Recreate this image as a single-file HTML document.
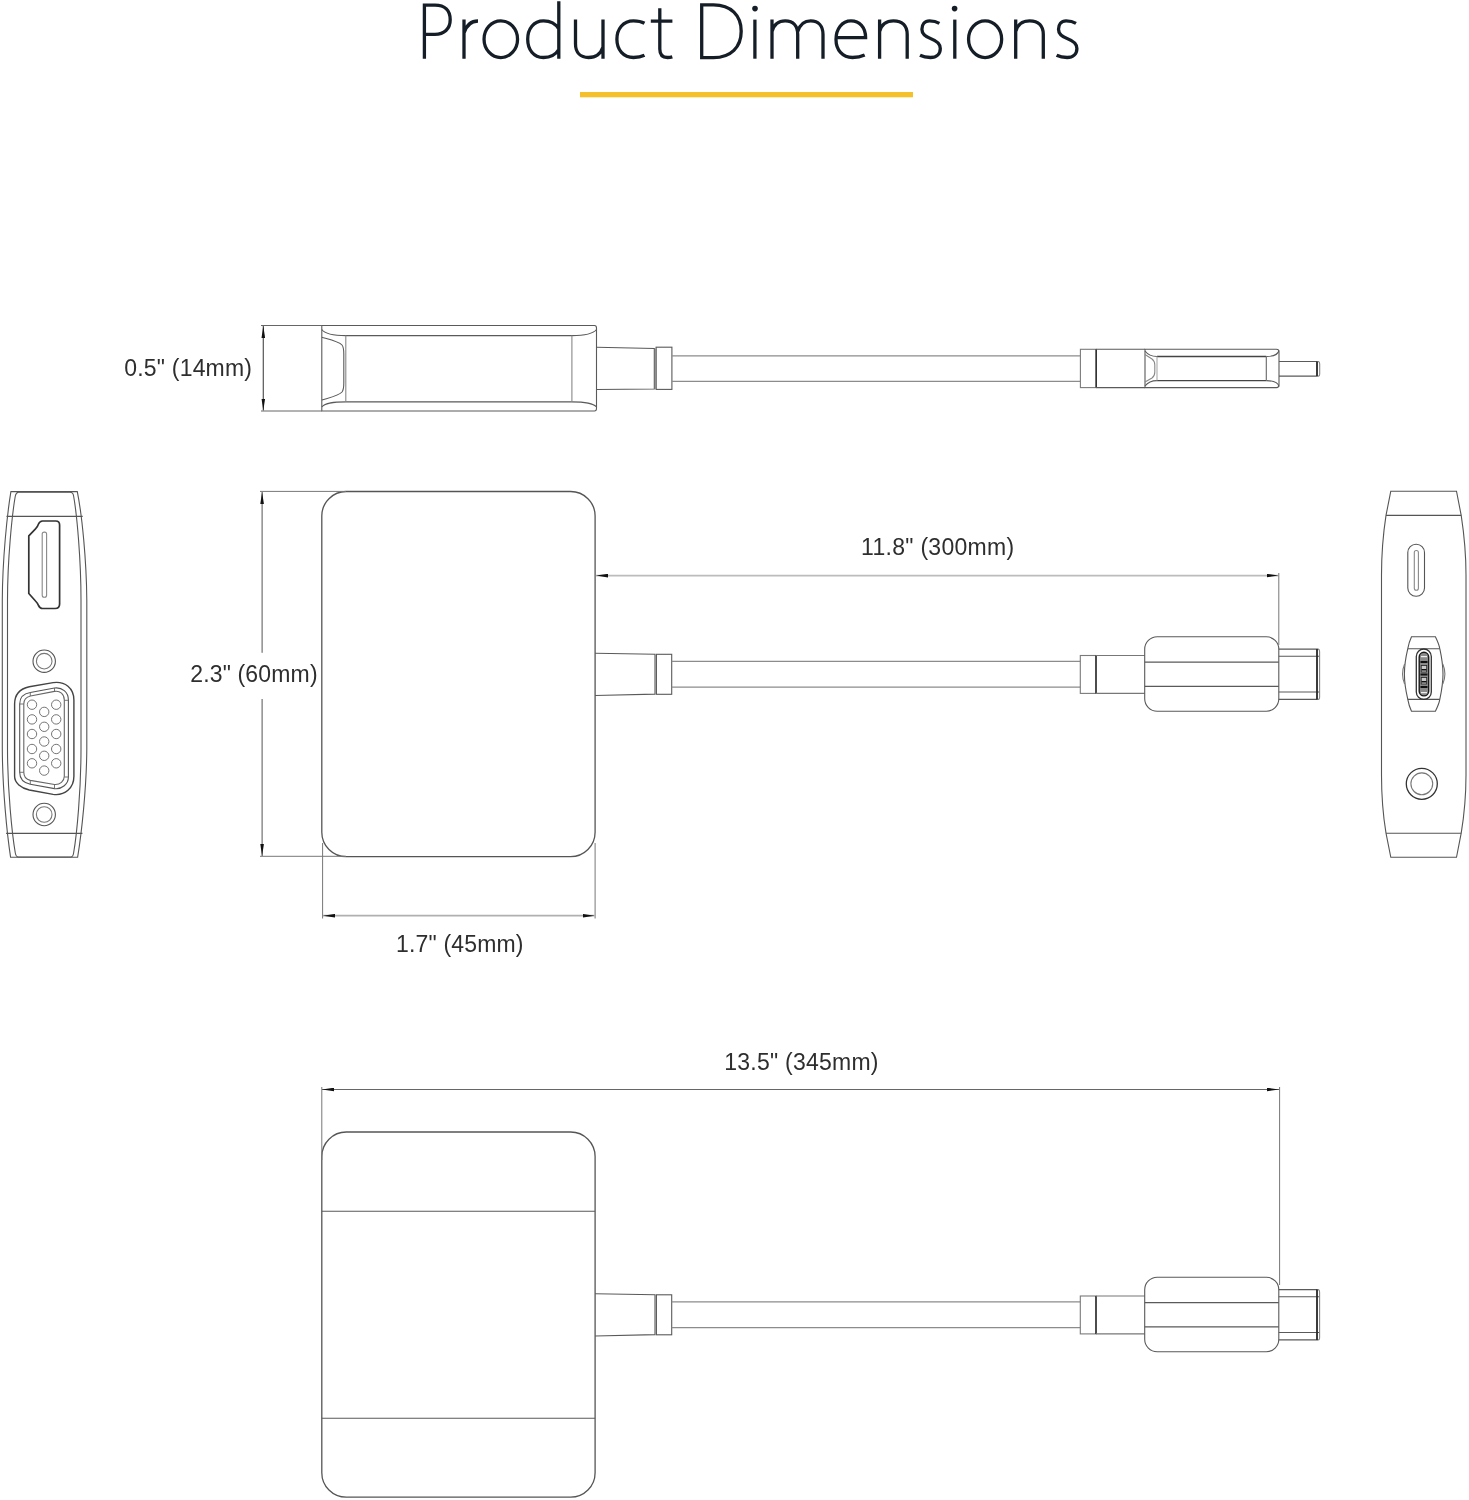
<!DOCTYPE html>
<html><head><meta charset="utf-8">
<style>
html,body{margin:0;padding:0;background:#fff;width:1469px;height:1500px;overflow:hidden}
svg{display:block;position:absolute;left:0;top:0}
text{font-family:"Liberation Sans",sans-serif}
</style></head>
<body>
<svg width="1469" height="1500" viewBox="0 0 1469 1500">
<defs>
  <filter id="gs" x="-5%" y="-20%" width="110%" height="140%"><feColorMatrix type="matrix" values="1 0 0 0 0  0 1 0 0 0  0 0 1 0 0  0 0 0 1 0"/></filter>
  <marker id="ar" viewBox="0 0 12 4" refX="12" refY="2" markerWidth="12" markerHeight="4" markerUnits="userSpaceOnUse" orient="auto-start-reverse">
    <path d="M0 0.2 L12 2 L0 3.8 Z" fill="#111"/>
  </marker>
</defs>

<!-- Title -->
<g id="title" fill="none" stroke="#151e27" stroke-width="3.3" stroke-linecap="butt" stroke-linejoin="miter">
  <path d="M424.4 58.7 V5.1 H435 C445 5.1 450.2 10.5 450.2 19.7 C450.2 29 444 34.3 435 34.3 H424.4"/>
  <path d="M464 19.6 V58.7 M464 33 C466.5 25 471 21 478 21"/>
  <ellipse cx="500.8" cy="39.2" rx="16.75" ry="18.35"/>
  <path d="M558.8 1.2 V58.7 M558.8 29 C555.5 23.5 550 20.9 543.5 20.9 C533.5 20.9 527.7 29 527.7 39.2 C527.7 49.5 533.5 57.5 543.5 57.5 C550 57.5 555.5 55 558.8 49.5"/>
  <path d="M575.5 19.6 V44 C575.5 52.5 580.5 57.5 588.5 57.5 C596 57.5 601 53 603 47 M603 19.6 V58.7"/>
  <path d="M644.5 23.3 C641.5 21.6 637.5 20.9 633.5 20.9 C623 20.9 616.9 29 616.9 39.2 C616.9 49.8 623.5 57.5 633.5 57.5 C637.5 57.5 641.5 56.7 644.5 55.2"/>
  <path d="M659.8 8.2 V49 C659.8 54.8 662.5 57.5 667.5 57.5 C669.3 57.5 671 57.2 672.3 56.8 M650.8 21.1 H672.4"/>
  <path d="M701.7 4.9 H713.5 C731 4.9 741.2 15.5 741.2 31.2 C741.2 47 731 57.6 713.5 57.6 H701.7 Z"/>
  <path d="M754.9 19.6 V58.7"/>
  <path d="M772 19.6 V58.7 M772 31.5 C774 24.5 779 20.9 785.2 20.9 C793.5 20.9 797.7 26 797.7 34.5 V58.7 M797.7 31.5 C800 24.5 804.5 20.9 810.7 20.9 C818.5 20.9 823 26 823 34.5 V58.7"/>
  <path d="M836.2 37.6 H865.6 C865.6 27 859.5 20.9 851 20.9 C842 20.9 836 29 836 39.5 C836 50 842.5 57.5 852.5 57.5 C857.5 57.5 861.5 56.5 864.7 55"/>
  <path id="tn" d="M879.6 19.6 V58.7 M879.6 31.5 C881.5 24.5 886.5 20.9 893.5 20.9 C902.5 20.9 907.2 26 907.2 34.5 V58.7"/>
  <path id="ts" d="M939.4 23.3 C936.5 21.6 933 20.9 929.5 20.9 C924.5 20.9 921.9 24.5 921.9 29.3 C921.9 34.5 925.5 36.8 931 38.8 C937 41 940.3 43.8 940.3 48.5 C940.3 54 936.5 57.5 930.5 57.5 C926 57.5 922.5 56.5 920 55.2"/>
  <path d="M954.8 19.6 V58.7"/>
  <ellipse cx="985.1" cy="39.2" rx="16.55" ry="18.35"/>
  <use href="#tn" transform="translate(136.1 0)"/>
  <use href="#ts" transform="translate(136.6 0)"/>
  <circle cx="755" cy="8.6" r="2.8" fill="#151e27" stroke="none"/>
  <circle cx="954.6" cy="8.6" r="2.8" fill="#151e27" stroke="none"/>
</g>
<rect x="580" y="92" width="333" height="5.3" fill="#f4c02c"/>

<!-- ============ TOP VIEW ============ -->
<g fill="none" stroke="#5a5a5a" stroke-width="1.1">
  <!-- ext lines -->
  <path d="M261 325.5 H321.8 M261 411 H321.8" stroke="#666" stroke-width="1"/>
  <path d="M263.3 326 V410.5" stroke="#555" stroke-width="1.2" marker-start="url(#ar)" marker-end="url(#ar)"/>
  <!-- body -->
  <path d="M321.8 325.5 H594.5 Q596.5 325.5 596.5 328 V408.5 Q596.5 411 594.5 411 H321.8 Z"/>
  <path d="M321.8 329.5 C325 334 334 335.6 346 335.6 H571.8 C583 335.6 593 334 596.5 329.5"/>
  <path d="M321.8 407 C325 402.5 334 401.9 346 401.9 H571.8 C583 401.9 593 403 596.5 407"/>
  <path d="M345.8 335.6 V401.9 M571.9 335.6 V401.9" stroke="#888"/>
  <path d="M321.8 337.2 C332 340 339 341.5 342 345 C343.6 347 343.8 350 343.8 354 V383 C343.8 387 343.6 390 342 392 C339 395.5 332 397 321.8 400"/>
  <!-- strain relief -->
  <path d="M596.5 347.3 L654.3 348.5 V389 L596.5 389.5"/>
  <path d="M655.9 348.5 V389" stroke="#999"/>
  <rect x="656.1" y="347.2" width="15.8" height="42.2"/>
  <!-- cable -->
  <path d="M671.9 355.9 H1080.4 M671.9 381.4 H1080.4" stroke="#8c8c8c" stroke-width="1.25"/>
  <!-- collar -->
  <rect x="1080.4" y="349.3" width="15.8" height="38.3" stroke="#7a7a7a"/>
  <path d="M1096.2 349.3 V387.6" stroke="#333" stroke-width="1.6"/>
  <path d="M1096.2 349.3 H1145 M1096.2 387.6 H1145"/>
  <!-- housing -->
  <path d="M1145 349.3 H1276.5 Q1279 349.3 1279 352 V385 Q1279 387.6 1276.5 387.6 H1145 Z"/>
  <path d="M1157 356.5 H1266.3 M1157 380.6 H1266.3" stroke="#444" stroke-width="1.4"/>
  <path d="M1145 351 C1148 355 1152 356.5 1157 356.5 M1266.3 356.5 C1273 356.5 1278 354.5 1279 350.5 M1145 386 C1148 382 1152 380.6 1157 380.6 M1266.3 380.6 C1273 380.6 1278 382.5 1279 386.5"/>
  <path d="M1157 356.5 V380.6" stroke="#aaa"/>
  <path d="M1266.3 356.5 V380.6" stroke="#666"/>
  <path d="M1145 354.5 L1152 359 Q1154.8 361 1154.8 365 V372 Q1154.8 376 1152 378 L1145 382" stroke="#888"/>
  <!-- plug -->
  <path d="M1279 361.5 H1317 V376.1 H1279"/>
  <path d="M1317 361.5 H1318.5 Q1319.7 362 1319.7 364 V374 Q1319.7 376.1 1318.5 376.1 H1317" stroke="#888"/>
  <path d="M1317 361.5 V376.1" stroke="#222" stroke-width="1.6"/>
</g>
<text x="124.3" y="376.0" font-size="23" textLength="127.7" lengthAdjust="spacing" fill="#2e2e2e" filter="url(#gs)">0.5" (14mm)</text>

<!-- ============ MIDDLE / BOTTOM VIEWS (shared) ============ -->
<g id="mainview" fill="none" stroke="#5a5a5a" stroke-width="1.1">
  <rect x="321.8" y="491.5" width="273.3" height="365.2" rx="24.5" ry="24.5" stroke="#555" stroke-width="1.3"/>
  <path d="M595.1 653.3 L655 654.2 V694.1 L595.1 695.5"/>
  <path d="M656.4 654.2 V694.1" stroke="#999"/>
  <rect x="656.4" y="654.3" width="15.3" height="40"/>
  <path d="M671.7 661.4 H1080.3 M671.7 687 H1080.3" stroke="#8c8c8c" stroke-width="1.25"/>
  <rect x="1080.3" y="655.5" width="15.7" height="37.9" stroke="#7a7a7a"/>
  <path d="M1096 655.5 V693.4" stroke="#333" stroke-width="1.6"/>
  <path d="M1096 655.5 H1144.7 M1096 693.4 H1144.7" stroke="#777"/>
  <rect x="1144.7" y="636.8" width="134.1" height="74.5" rx="12.5" ry="12.5"/>
  <path d="M1144.7 662.1 H1278.8 M1144.7 686.4 H1278.8"/>
  <path d="M1278.8 649.1 H1317 V699.4 H1278.8 M1278.8 656.2 H1319.6 M1278.8 692 H1319.6"/>
  <path d="M1317 649.1 H1318.3 Q1319.6 649.5 1319.6 651.5 V697 Q1319.6 699.4 1318.3 699.4 H1317" stroke="#888"/>
  <path d="M1317 649.1 V699.4" stroke="#222" stroke-width="1.6"/>
</g>
<use href="#mainview" transform="translate(0 640.5)"/>
<path d="M321.8 1211.2 H595.1 M321.8 1418.2 H595.1" fill="none" stroke="#5a5a5a" stroke-width="1.1"/>

<!-- dimensions middle -->
<g fill="none" stroke="#777" stroke-width="1">
  <path d="M260 491.4 H346 M260 856.3 H346"/>
  <path d="M262.1 492 V652.8" marker-start="url(#ar)" stroke="#555"/>
  <path d="M262.1 699 V856" marker-end="url(#ar)" stroke="#555"/>
  <path d="M322.6 843 V918.5 M595.1 843 V918.5"/>
  <path d="M323 915.7 H594.6" marker-start="url(#ar)" marker-end="url(#ar)" stroke="#b0b0b0" stroke-width="1.7"/>
  <path d="M596 575.6 H1278.5" marker-start="url(#ar)" marker-end="url(#ar)" stroke="#bcbcbc" stroke-width="1.7"/>
  <path d="M1278.8 573 V645"/>
  <!-- bottom -->
  <path d="M321.8 1087 V1160 M1279.6 1087 V1285"/>
  <path d="M322 1089.5 H1279" marker-start="url(#ar)" marker-end="url(#ar)" stroke="#666"/>
</g>
<text x="190.2" y="681.8" font-size="23" textLength="127.4" lengthAdjust="spacing" fill="#2e2e2e" filter="url(#gs)">2.3" (60mm)</text>
<text x="396" y="952.4" font-size="23" textLength="127.5" lengthAdjust="spacing" fill="#2e2e2e" filter="url(#gs)">1.7" (45mm)</text>
<text x="861" y="555.0" font-size="23" textLength="153.2" lengthAdjust="spacing" fill="#2e2e2e" filter="url(#gs)">11.8" (300mm)</text>
<text x="724.3" y="1069.6" font-size="23" textLength="154.2" lengthAdjust="spacing" fill="#2e2e2e" filter="url(#gs)">13.5" (345mm)</text>

<!-- ============ LEFT SIDE VIEW ============ -->
<g fill="none" stroke="#555" stroke-width="1.1">
  <path d="M10.9 491.6 C7 515 2.5 560 2.3 600 V749 C2.5 789 7 834 10.6 857.3 H77.6 C81.5 834 86.5 789 86.8 749 V600 C86.5 560 82 515 77.3 491.6 Z"/>
  <path d="M18.4 492.3 Q16 492.5 15.3 496 C12 515 7.5 560 7.5 600 V749 C7.5 789 12 834 15.3 853 Q16 857 18.4 857 H70.8 Q73 857 73.6 853 C77 834 81 789 81 749 V600 C81 560 77 515 73.6 496 Q73 492.3 70.1 492.3 Z"/>
  <path d="M6.5 516.4 H82.7 M6.1 833.4 H82.4"/>
  <!-- HDMI -->
  <path d="M28.8 535.8 L35.5 528.8 Q37.5 527 38.5 524 Q39.8 521.2 42.5 521 H55.8 Q59.6 521 59.6 525 V604 Q59.6 608.5 55.1 608.5 H42.5 Q40 608.5 38.5 605.5 Q37.5 603 35.5 601 L28.8 593.5 Z" stroke="#333" stroke-width="1.7"/>
  <rect x="42.2" y="532.1" width="4.4" height="65.1" rx="2" stroke="#888"/>
  <!-- circles -->
  <circle cx="44.2" cy="661.2" r="11.2"/>
  <circle cx="44.2" cy="661.2" r="7.8" stroke="#777"/>
  <circle cx="44.2" cy="814.5" r="11.2"/>
  <circle cx="44.2" cy="814.5" r="7.8" stroke="#777"/>
  <!-- VGA -->
  <path d="M14.6 704 C14.6 694 21 688.5 29.3 686.7 L53.1 682.6 C65 681 73.9 688 73.9 700 V776.3 C73.9 788 65 796 53.1 794.4 L29.3 790 C21 788 14.6 783 14.6 776.3 Z" stroke="#444" stroke-width="1.4"/>
  <path d="M19.7 704 C19.7 697 24 693.5 30.3 692.5 L54.5 688 C62 687 68.4 692 68.4 700 V777 C68.4 784 62 789.5 54.5 788.6 L30.3 784.2 C24 783 19.7 779 19.7 772.3 Z"/>
  <path d="M23.8 704 C23.8 700 26 697 30.5 696 L54.5 691.4 C60 690.5 64.3 694 64.3 700 V776.3 C64.3 781 60 785 54.5 784.5 L30.3 780.4 C26 779.5 23.8 777 23.8 772.3 Z" stroke="#666"/>
  <path d="M19.7 704 H23.8 M64.3 700.3 H68.4 M19.7 772.3 H23.8 M64.3 777 H68.4 M30.3 692.5 V696 M54.5 688 V691.4 M30.3 780.4 V784.2 M54.5 784.5 V788.6" stroke="#666" stroke-width="0.9"/>
  <g stroke="#666" stroke-width="0.9">
    <circle cx="32" cy="704.7" r="4.7"/><circle cx="32" cy="719.4" r="4.7"/><circle cx="32" cy="734" r="4.7"/><circle cx="32" cy="749" r="4.7"/><circle cx="32" cy="763.3" r="4.7"/>
    <circle cx="56.2" cy="704.7" r="4.7"/><circle cx="56.2" cy="719.4" r="4.7"/><circle cx="56.2" cy="734" r="4.7"/><circle cx="56.2" cy="749" r="4.7"/><circle cx="56.2" cy="763.3" r="4.7"/>
    <circle cx="44.2" cy="711.9" r="4.7"/><circle cx="44.2" cy="726.8" r="4.7"/><circle cx="44.2" cy="741.5" r="4.7"/><circle cx="44.2" cy="755.8" r="4.7"/><circle cx="44.2" cy="770.6" r="4.7"/>
  </g>
</g>

<!-- ============ RIGHT SIDE VIEW ============ -->
<g fill="none" stroke="#555" stroke-width="1.1">
  <path d="M1390.8 491.2 L1386 515.4 C1383 535 1381.5 555 1381.5 575 V775 C1381.5 795 1383 815 1386 833.2 L1390.8 857.3 H1456.5 L1461.2 833.2 C1464.2 815 1466 795 1466 775 V575 C1466 555 1464.2 535 1461.2 515.4 L1456.5 491.2 Z"/>
  <path d="M1386 515.4 H1461.2 M1386 833.2 H1461.2"/>
  <rect x="1407.8" y="544.3" width="16.7" height="52" rx="8.3"/>
  <rect x="1414.3" y="550.5" width="4.1" height="39.7" rx="2" stroke="#888"/>
  <path d="M1411.5 636.7 H1435.4 C1437.5 641 1439.2 645 1439.8 648.7 C1441.8 658 1443 667 1443 674 C1443 681 1441.8 690 1439.8 699.4 C1439.2 703 1437.5 707 1435.4 711.3 H1411.5 C1409.5 707 1408.4 703 1407.8 699.4 C1405.6 690 1404.4 681 1404.4 674 C1404.4 667 1405.6 658 1407.8 648.7 C1408.4 645 1409.5 641 1411.5 636.7 Z"/>
  <path d="M1407.8 648.7 H1439.8 M1407.8 699.4 H1439.8"/>
  <path d="M1404.6 664 Q1400.5 674 1404.6 684 M1442.8 664 Q1447 674 1442.8 684" stroke="#777"/>
  <rect x="1416.3" y="649" width="15" height="50.4" rx="7.5" stroke="#333" stroke-width="1.3"/>
  <rect x="1419.2" y="652.3" width="9.5" height="43.6" rx="4.7" fill="#8a8a8a" stroke="#1a1a1a" stroke-width="1.4"/>
  <g fill="#c8c8c8" stroke="#222" stroke-width="0.8">
    <rect x="1421.2" y="665.5" width="5.5" height="6.5"/>
    <rect x="1421.2" y="677.5" width="5.5" height="6.5"/>
  </g>
  <g fill="#111" stroke="none">
    <rect x="1421.5" y="669" width="5" height="1.5"/>
    <rect x="1421.5" y="681" width="5" height="1.5"/>
    <rect x="1420.5" y="661" width="7" height="2"/>
    <rect x="1420.5" y="673.5" width="7" height="2"/>
    <rect x="1420.5" y="686" width="7" height="2"/>
    <rect x="1421" y="656" width="6" height="1.2" fill="#eee"/>
    <rect x="1421" y="692" width="6" height="1.2" fill="#eee"/>
  </g>
  <circle cx="1421.8" cy="783.8" r="15.5" stroke="#333" stroke-width="1.3"/>
  <circle cx="1421.8" cy="783.8" r="10.9" stroke="#777"/>
</g>
</svg>
</body></html>
